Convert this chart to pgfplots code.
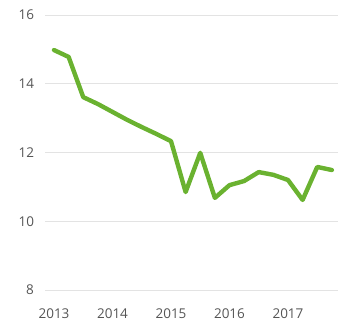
\documentclass[border=0pt]{standalone}
\usepackage{fontspec}
\setmainfont{Open Sans}
\usepackage{pgfplots}
\pgfplotsset{compat=1.18}
\definecolor{linegreen}{RGB}{106,178,48}
\definecolor{labgray}{RGB}{85,85,85}
\begin{document}
\begin{tikzpicture}
\useasboundingbox (0,0) rectangle (338pt,324pt);
\begin{axis}[
  at={(45pt,34pt)}, anchor=origin,
  scale only axis, width=293pt, height=275pt,
  xmin=2012.846, xmax=2017.855, ymin=8, ymax=16,
  xtick={2013,2014,2015,2016,2017},
  xticklabels={2013,2014,2015,2016,2017},
  ytick={8,10,12,14,16},
  ymajorgrids, major grid style={gray!22, line width=0.8pt},
  axis line style={draw=none}, major tick length=0pt,
  tick label style={font=\fontsize{13.5}{16}\selectfont, text=labgray},
  /pgf/number format/assume math mode=true,
  yticklabel style={xshift=-7.5pt},
  xticklabel style={yshift=-15pt},
  clip=false,
]
\addplot[linegreen, line width=4.4pt, line join=round, line cap=round] coordinates {
(2013.00,14.98) (2013.25,14.78) (2013.50,13.61) (2013.75,13.41)
(2014.00,13.18) (2014.25,12.95) (2014.50,12.74) (2014.75,12.54)
(2015.00,12.33) (2015.25,10.85) (2015.50,11.99) (2015.75,10.68)
(2016.00,11.05) (2016.25,11.17) (2016.50,11.43) (2016.75,11.35)
(2017.00,11.20) (2017.25,10.62) (2017.50,11.58) (2017.75,11.49)
};
\end{axis}
\end{tikzpicture}
\end{document}
